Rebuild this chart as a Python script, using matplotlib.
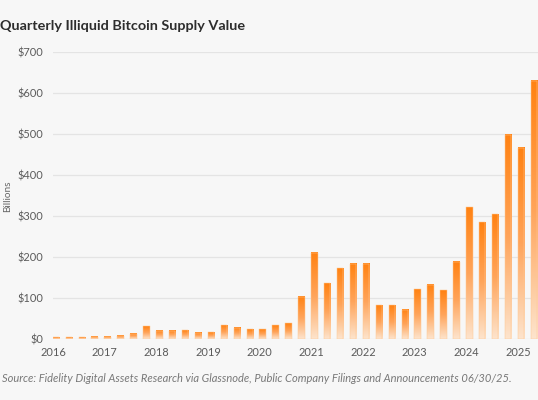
import numpy as np
import matplotlib
matplotlib.use("Agg")
import matplotlib.pyplot as plt
from matplotlib.colors import LinearSegmentedColormap

# ---- data ----
start_year = 2016
quarter_values = [4, 4, 4, 5, 5, 8, 13, 31, 20, 20, 21, 15, 16, 33, 27, 24, 24,
                  33, 39, 103, 210, 136, 172, 184, 183, 82, 82, 71, 121, 132, 119,
                  188, 321, 285, 304, 498, 467, 630]
year_ticks = [2016, 2017, 2018, 2019, 2020, 2021, 2022, 2023, 2024, 2025]
y_ticks = [0, 100, 200, 300, 400, 500, 600, 700]
title = "Quarterly Illiquid Bitcoin Supply Value"
y_label = "Billions"
source = ("Source: Fidelity Digital Assets Research via Glassnode, Public Company "
          "Filings and Announcements 06/30/25.")

plt.rcParams['font.family'] = ['Lato', 'DejaVu Sans']

bg = '#f7f7f7'
fig = plt.figure(figsize=(5.38, 4.0), dpi=100, facecolor=bg)
ax = fig.add_axes([53/538, 61/400, 485/538, 287/400], facecolor=bg)

cmap = LinearSegmentedColormap.from_list('g', ['#fde4cd', '#ffa45a', '#ff8212'])
grad = np.linspace(0, 1, 256).reshape(-1, 1)

x_pos = np.array([start_year + i / 4 for i in range(len(quarter_values))]) - 0.005
width = 0.125
for x, v in zip(x_pos, quarter_values):
    ax.imshow(grad, cmap=cmap, origin='lower', aspect='auto',
              extent=[x, x + width, 0, v], zorder=2, interpolation='bilinear')
ax.bar(x_pos, quarter_values, width=width, align='edge', facecolor='none',
       edgecolor='#ffc994', linewidth=0.35, zorder=3)

ax.set_xlim(2016.0, 2016 + 485/51.67)
ax.set_ylim(0, 700)
ax.set_yticks(y_ticks)
ax.set_yticklabels([f"${t}" for t in y_ticks])
ax.set_xticks(year_ticks)
ax.set_xticklabels([str(y) for y in year_ticks])
ax.grid(axis='y', color='#e4e4e4', linewidth=0.9, zorder=0)
ax.set_axisbelow(True)
for s in ax.spines.values():
    s.set_visible(False)
ax.tick_params(axis='both', length=0, colors='#5a5a5a', labelsize=7.9)
ax.tick_params(axis='y', pad=7)
ax.tick_params(axis='x', pad=6)

fig.text(8/538, 1 - 196/400, y_label, rotation=90, ha='center', va='center',
         fontsize=7.2, color='#666666')
fig.text(0.0, 1 - 26/400, title, ha='left', va='center', fontsize=10.4,
         fontweight='bold', color='#2d2d2d')
fig.text(2/538, 1 - 378/400, source, ha='left', va='center', fontsize=8.0,
         style='italic', color='#787878')

fig.savefig('out.png', dpi=100, facecolor=bg)
